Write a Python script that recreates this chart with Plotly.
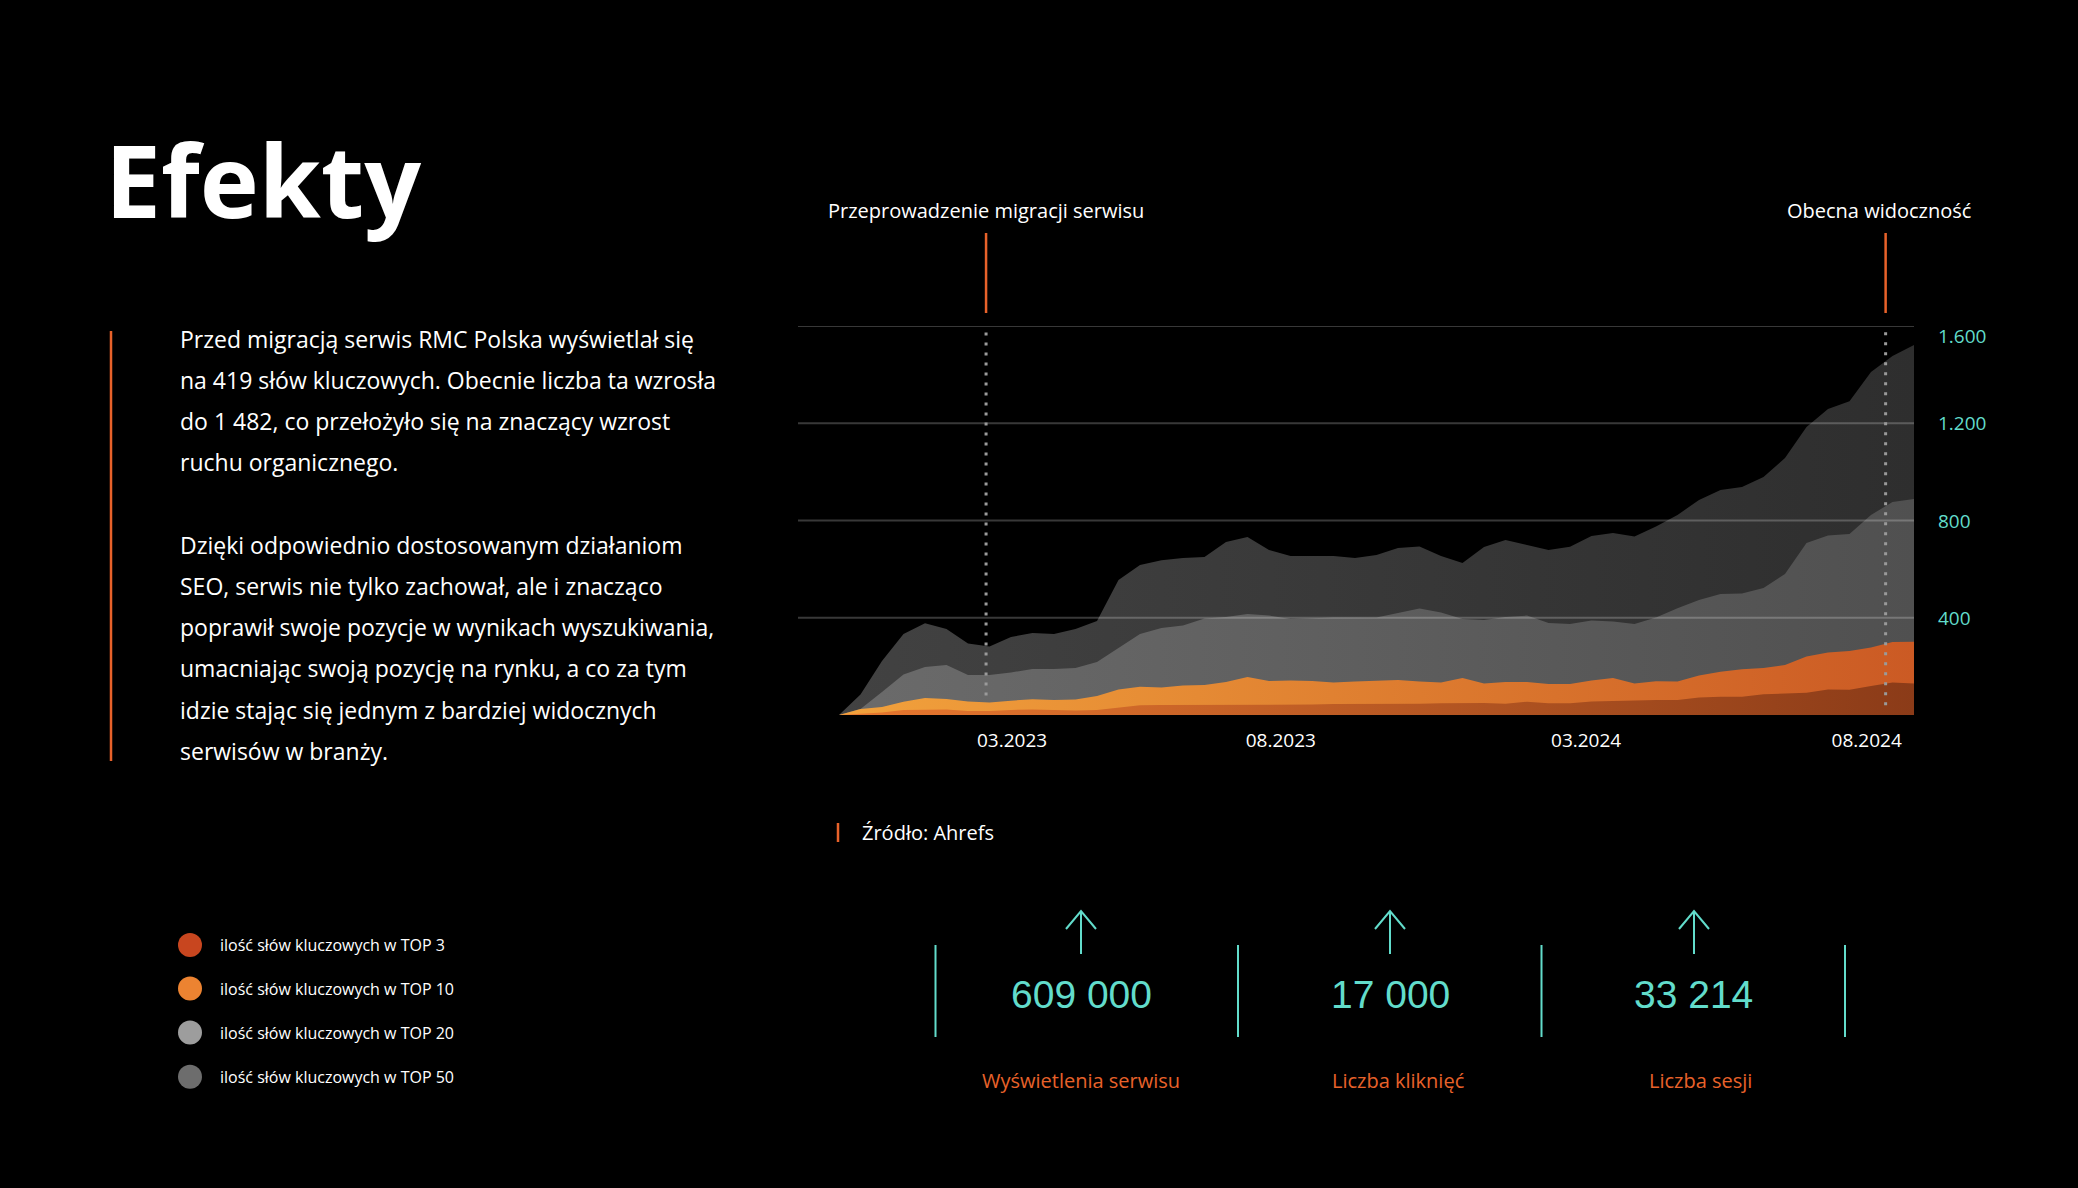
import plotly.graph_objects as go

W, H = 2078, 1188

# ---------------- data ----------------
series_names = [
    "ilość słów kluczowych w TOP 3",
    "ilość słów kluczowych w TOP 10",
    "ilość słów kluczowych w TOP 20",
    "ilość słów kluczowych w TOP 50",
]
x_idx = list(range(51))
top50 = [0, 84, 222, 333, 377, 354, 294, 282, 321, 337, 333, 354, 387, 555, 617, 637, 646, 650, 712, 732,
         679, 654, 654, 654, 646, 658, 687, 693, 654, 625, 691, 720, 699, 679, 692, 736, 749, 734, 775, 823,
         884, 925, 938, 979, 1057, 1185, 1259, 1291, 1411, 1477, 1522]
top20 = [0, 25, 95, 167, 197, 206, 165, 165, 175, 189, 189, 193, 218, 276, 333, 358, 368, 397, 403, 415,
         409, 395, 399, 401, 401, 401, 420, 438, 422, 395, 391, 403, 409, 378, 374, 389, 385, 374, 401, 439,
         473, 498, 500, 522, 580, 707, 738, 744, 823, 876, 888]
top10 = [0, 25, 33, 55, 70, 66, 56, 51, 59, 65, 62, 64, 78, 105, 116, 113, 121, 123, 136, 156,
         140, 142, 140, 134, 138, 142, 144, 138, 134, 152, 130, 136, 136, 128, 128, 142, 152, 130, 139, 138,
         162, 178, 188, 193, 206, 241, 257, 263, 278, 300, 301]
top3 = [0, 6, 10, 21, 23, 23, 16, 16, 21, 23, 21, 19, 21, 31, 40, 41, 41, 40, 41, 43,
        41, 42, 43, 45, 45, 43, 45, 46, 48, 49, 49, 46, 55, 48, 48, 56, 59, 60, 62, 62,
        72, 75, 75, 85, 88, 92, 105, 104, 119, 134, 130]

x_tick_pos = [8.05, 20.55, 34.75, 47.8]
x_tick_text = ["03.2023", "08.2023", "03.2024", "08.2024"]
y_tick_vals = [400, 800, 1200, 1600]
y_tick_text = ["400", "800", "1.200", "1.600"]

marker_x = [6.84, 48.68]
marker_text = ["Przeprowadzenie migracji serwisu", "Obecna widoczność"]

title_text = "Efekty"
paragraph_lines = [
    "Przed migracją serwis RMC Polska wyświetlał się",
    "na 419 słów kluczowych. Obecnie liczba ta wzrosła",
    "do 1 482, co przełożyło się na znaczący wzrost",
    "ruchu organicznego.",
    "Dzięki odpowiednio dostosowanym działaniom",
    "SEO, serwis nie tylko zachował, ale i znacząco",
    "poprawił swoje pozycje w wynikach wyszukiwania,",
    "umacniając swoją pozycję na rynku, a co za tym",
    "idzie stając się jednym z bardziej widocznych",
    "serwisów w branży.",
]
source_text = "Źródło: Ahrefs"
stat_values = ["609 000", "17 000", "33 214"]
stat_labels = ["Wyświetlenia serwisu", "Liczba kliknięć", "Liczba sesji"]

# ---------------- style ----------------
CYAN = "#62dccb"
ORANGE = "#e8622a"
legend_colors = ["#c8461f", "#ec8331", "#9d9d9d", "#6d6d6d"]
gradients = {
    "top50": ["#424242", "#2e2e2e"],
    "top20": ["#6b6b6b", "#505050"],
    "top10": ["#f2a23c", "#cb5a24"],
    "top3": ["#e8782f", "#8b3b18"],
}


def px(x):
    return x / W


def py(y):
    return 1 - y / H


fig = go.Figure()
for name, vals, key in [
    (series_names[3], top50, "top50"),
    (series_names[2], top20, "top20"),
    (series_names[1], top10, "top10"),
    (series_names[0], top3, "top3"),
]:
    c0, c1 = gradients[key]
    fig.add_trace(go.Scatter(
        x=x_idx, y=vals, mode="lines", name=name,
        line=dict(width=0, color=c1), fill="tozeroy",
        fillgradient=dict(type="horizontal", colorscale=[[0, c0], [1, c1]]),
        hoverinfo="skip", showlegend=False,
    ))

shapes = []
annotations = []
# gridlines above areas + right-hand labels
label_shift = {1600: -10}
for v, t in zip(y_tick_vals, y_tick_text):
    shapes.append(dict(type="line", xref="x domain", yref="y", x0=0, x1=1, y0=v, y1=v,
                       line=dict(color="rgba(255,255,255,0.22)", width=2), layer="above"))
    annotations.append(dict(x=1, y=v, xref="x domain", yref="y", text=t, showarrow=False,
                            xanchor="left", yanchor="middle", xshift=22, yshift=label_shift.get(v, 0),
                            font=dict(family="Open Sans", size=19, color=CYAN)))
# markers
dot_bottoms = [80, 40]
marker_xshift = [0, -7]
for mx, mt, db, xs in zip(marker_x, marker_text, dot_bottoms, marker_xshift):
    shapes.append(dict(type="line", xref="x", yref="y", x0=mx, x1=mx, y0=db, y1=1585,
                       line=dict(color="#9a9a9a", width=3, dash="3px,7px"), layer="above"))
    shapes.append(dict(type="line", xref="x", yref="paper", x0=mx, x1=mx, y0=py(313), y1=py(233),
                       line=dict(color=ORANGE, width=2.5), layer="above"))
    annotations.append(dict(x=mx, y=py(210.5), xref="x", yref="paper", text=mt, showarrow=False,
                            xanchor="center", yanchor="middle", xshift=xs,
                            font=dict(family="Open Sans", size=20, color="#ffffff")))

# title
annotations.append(dict(x=px(103), y=py(179), xref="paper", yref="paper", text=title_text,
                        showarrow=False, xanchor="left", yanchor="middle",
                        font=dict(family="Open Sans", size=100, color="#ffffff", weight=700)))
# left orange bar
shapes.append(dict(type="line", xref="paper", yref="paper", x0=px(111), x1=px(111), y0=py(331), y1=py(761),
                   line=dict(color=ORANGE, width=2.5)))
para_y = [339.3, 380.4, 421.4, 462.5, 544.7, 585.8, 626.9, 668, 710.4, 751.4]
for line, yy in zip(paragraph_lines, para_y):
    annotations.append(dict(x=px(178), y=py(yy), xref="paper", yref="paper", text=line,
                            showarrow=False, xanchor="left", yanchor="middle",
                            font=dict(family="Open Sans", size=23, color="#ffffff")))

# legend
leg_y = [945, 988.5, 1032.5, 1076.7]
for name, col, yy in zip(series_names, legend_colors, leg_y):
    shapes.append(dict(type="circle", xref="paper", yref="paper",
                       x0=px(178), x1=px(202), y0=py(yy + 12), y1=py(yy - 12),
                       fillcolor=col, line=dict(width=0)))
    annotations.append(dict(x=px(218), y=py(yy), xref="paper", yref="paper", text=name,
                            showarrow=False, xanchor="left", yanchor="middle",
                            font=dict(family="Open Sans", size=16, color="#ffffff")))

# source
shapes.append(dict(type="line", xref="paper", yref="paper", x0=px(838), x1=px(838), y0=py(842), y1=py(823),
                   line=dict(color=ORANGE, width=2.5)))
annotations.append(dict(x=px(860), y=py(832), xref="paper", yref="paper", text=source_text,
                        showarrow=False, xanchor="left", yanchor="middle",
                        font=dict(family="Open Sans", size=20, color="#ffffff")))

# stats
sep_x = [935.5, 1238, 1541.5, 1845]
for sx in sep_x:
    shapes.append(dict(type="line", xref="paper", yref="paper", x0=px(sx), x1=px(sx), y0=py(1037), y1=py(945),
                       line=dict(color=CYAN, width=2)))
arrow_x = [1081, 1390, 1694]
num_x = [1081, 1390, 1693]
lab_x = [1081, 1398, 1700]
for ax_, nx, lx, val, lab in zip(arrow_x, num_x, lab_x, stat_values, stat_labels):
    shapes.append(dict(type="line", xref="paper", yref="paper", x0=px(ax_), x1=px(ax_), y0=py(954), y1=py(911),
                       line=dict(color=CYAN, width=2)))
    shapes.append(dict(type="path", xref="paper", yref="paper",
                       path=f"M {px(ax_-15)},{py(929)} L {px(ax_)},{py(911)} L {px(ax_+15)},{py(929)}",
                       line=dict(color=CYAN, width=2)))
    annotations.append(dict(x=px(nx), y=py(994), xref="paper", yref="paper", text=val,
                            showarrow=False, xanchor="center", yanchor="middle",
                            font=dict(family="Liberation Sans", size=39, color=CYAN)))
    annotations.append(dict(x=px(lx), y=py(1080), xref="paper", yref="paper", text=lab,
                            showarrow=False, xanchor="center", yanchor="middle",
                            font=dict(family="Open Sans", size=20, color=ORANGE)))

fig.update_layout(
    width=W, height=H, autosize=False,
    margin=dict(l=0, r=0, t=0, b=0, autoexpand=False),
    paper_bgcolor="#000000", plot_bgcolor="#000000",
    shapes=shapes, annotations=annotations,
    showlegend=False,
    xaxis=dict(domain=[px(798), px(1914)], range=[-1.907, 50], showgrid=False, zeroline=False,
               showline=False, tickmode="array", tickvals=x_tick_pos, ticktext=x_tick_text,
               ticks="", ticklabelstandoff=12, automargin=False,
               tickfont=dict(family="Open Sans", size=19, color="#ffffff"), fixedrange=True),
    yaxis=dict(domain=[py(715), py(326)], range=[0, 1600], showgrid=False, zeroline=False,
               showline=False, showticklabels=False, automargin=False, fixedrange=True),
)

fig.write_html("out.html", config={"displayModeBar": False})
